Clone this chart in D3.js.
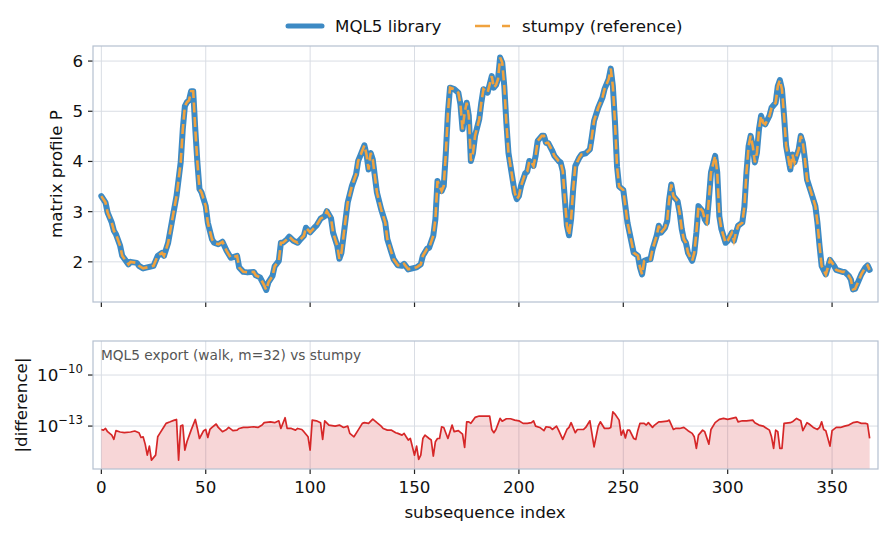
<!DOCTYPE html>
<html>
<head>
<meta charset="utf-8">
<script src="https://cdn.jsdelivr.net/npm/d3@7"></script>
<style>
  body { margin: 0; background: #fff; }
  text { font-family: "DejaVu Sans", sans-serif; }
</style>
</head>
<body>
<svg id="chart" width="888" height="533"></svg>
<script>
// matrix profile: [subsequence index, P]
const profilePoints = [
  [0,3.31],[2,3.18],[3,2.98],[5,2.78],[6,2.62],[7,2.55],[9,2.32],[10,2.12],[13,1.95],[14,2.0],
  [17,1.98],[18,1.92],[20,1.87],[22,1.89],[25,1.92],[27,2.12],[29,2.18],[30,2.12],[32,2.38],[34,2.85],
  [36,3.31],[38,3.98],[39,4.64],[40,5.1],[41,5.18],[42,5.22],[43,5.4],[44,5.4],[45,4.64],[46,3.98],
  [47,3.45],[48,3.38],[50,3.11],[51,2.78],[53,2.45],[54,2.38],[56,2.35],[58,2.4],[60,2.22],[61,2.15],
  [62,2.08],[65,2.12],[66,1.89],[68,1.8],[70,1.79],[73,1.8],[74,1.73],[76,1.69],[78,1.53],[79,1.44],
  [80,1.59],[82,1.72],[83,1.91],[85,2.02],[86,2.38],[87,2.38],[89,2.45],[90,2.5],[92,2.42],[94,2.38],
  [95,2.43],[97,2.52],[98,2.68],[100,2.59],[102,2.68],[103,2.72],[105,2.86],[107,2.91],[108,3.01],[110,2.87],
  [111,2.58],[113,2.32],[114,2.06],[115,2.18],[117,2.85],[118,3.18],[120,3.51],[122,3.74],[123,4.01],[124,4.11],
  [126,4.32],[127,4.14],[128,3.84],[129,4.17],[130,4.04],[131,3.71],[132,3.38],[134,3.05],[136,2.78],[137,2.45],
  [139,2.18],[140,2.05],[142,1.93],[144,1.92],[145,1.96],[147,1.85],[149,1.87],[151,1.89],[153,1.95],[154,2.12],
  [156,2.26],[157,2.28],[159,2.52],[160,2.85],[161,3.61],[163,3.41],[164,3.51],[165,4.17],[166,4.97],[167,5.47],
  [169,5.44],[171,5.37],[172,5.14],[173,4.64],[174,4.97],[175,5.17],[176,4.91],[177,4.01],[178,4.17],[179,4.51],
  [181,4.84],[182,5.17],[183,5.44],[185,5.37],[187,5.7],[188,5.47],[189,5.52],[190,5.64],[191,6.07],[192,5.97],
  [193,5.5],[194,4.77],[195,4.17],[197,3.64],[198,3.38],[199,3.25],[200,3.31],[201,3.51],[203,3.76],[204,3.8],
  [205,4.01],[206,3.98],[207,3.91],[208,4.11],[209,4.41],[211,4.51],[212,4.51],[213,4.37],[214,4.37],[216,4.21],
  [217,4.11],[219,4.01],[220,3.98],[221,3.81],[222,3.25],[223,2.72],[224,2.53],[225,2.85],[226,3.45],[227,3.91],
  [229,4.08],[230,4.14],[232,4.16],[234,4.24],[235,4.51],[236,4.81],[238,5.07],[240,5.27],[241,5.44],[243,5.64],
  [244,5.85],[245,5.5],[246,4.8],[247,3.9],[248,3.5],[250,3.43],[251,3.11],[252,2.78],[254,2.38],[255,2.18],
  [257,2.12],[258,1.89],[259,1.75],[260,2.02],[262,2.05],[263,2.05],[264,2.25],[266,2.52],[267,2.72],[268,2.58],
  [270,2.68],[271,2.81],[272,3.25],[273,3.54],[274,3.31],[276,3.21],[277,2.98],[278,2.65],[279,2.45],[280,2.38],
  [281,2.18],[283,2.02],[284,2.18],[285,2.58],[286,3.11],[288,3.01],[289,2.85],[290,2.78],[291,3.25],[292,3.78],
  [294,4.11],[295,3.78],[296,2.91],[297,2.65],[299,2.38],[300,2.42],[302,2.58],[303,2.42],[304,2.58],[305,2.72],
  [307,2.78],[308,3.1],[309,3.78],[310,4.3],[311,4.51],[312,4.31],[313,3.98],[314,4.17],[315,4.64],[316,4.91],
  [317,4.77],[318,4.74],[320,4.91],[321,5.07],[323,5.17],[324,5.5],[325,5.62],[326,5.44],[327,4.91],[328,4.31],
  [330,3.84],[331,4.14],[332,3.98],[334,4.24],[335,4.51],[336,4.37],[337,4.04],[338,3.64],[340,3.38],[342,3.11],
  [343,2.78],[344,2.32],[345,1.92],[347,1.75],[348,1.89],[349,2.04],[351,1.92],[352,1.84],[355,1.8],[356,1.8],
  [358,1.72],[359,1.65],[360,1.45],[361,1.46],[363,1.65],[364,1.75],[366,1.89],[367,1.93],[368,1.84]
];

// |difference| as [subsequence index, log10 of the value]
const diffPoints = [
  [0,-13.2],[1,-13.24],[2,-13.14],[3,-13.33],[5,-13.53],[6,-13.78],[7,-13.27],[9,-13.35],[11,-13.39],[14,-13.35],
  [16,-13.29],[18,-13.39],[19,-13.67],[20,-13.63],[21,-14.06],[22,-14.71],[23,-14.18],[24,-15.0],[26,-14.71],[27,-13.63],
  [28,-13.43],[30,-13.04],[31,-12.84],[33,-12.75],[35,-12.65],[36,-12.61],[37,-15.0],[38,-13.0],[39,-12.94],[40,-14.41],
  [41,-13.92],[43,-13.24],[45,-12.61],[46,-13.14],[47,-13.73],[49,-13.27],[50,-13.2],[51,-13.67],[52,-13.2],[53,-13.08],
  [55,-12.88],[56,-13.08],[58,-13.33],[60,-13.2],[61,-13.08],[63,-13.27],[65,-13.24],[66,-13.14],[68,-13.08],[70,-13.08],
  [73,-13.04],[75,-13.08],[77,-12.94],[78,-12.8],[81,-12.75],[83,-12.8],[85,-12.69],[86,-13.14],[88,-12.51],[89,-13.14],
  [91,-13.14],[93,-13.24],[94,-13.14],[96,-13.2],[97,-13.33],[99,-13.63],[100,-14.41],[101,-12.65],[103,-12.69],[105,-12.8],
  [106,-13.78],[107,-12.69],[109,-12.94],[112,-13.0],[114,-12.94],[116,-13.08],[118,-13.0],[119,-13.43],[121,-13.63],[123,-13.24],
  [125,-12.84],[126,-12.8],[128,-12.84],[130,-12.59],[132,-12.8],[134,-13.0],[135,-13.14],[137,-13.24],[139,-13.24],[141,-13.39],
  [142,-13.43],[144,-13.53],[145,-13.43],[146,-13.63],[147,-13.82],[148,-13.73],[150,-14.71],[151,-14.18],[152,-14.96],[153,-14.71],
  [154,-13.73],[155,-13.53],[157,-13.73],[158,-13.82],[159,-14.76],[160,-13.92],[161,-13.73],[162,-13.73],[163,-13.04],[164,-13.08],
  [166,-13.73],[168,-12.94],[169,-13.33],[171,-13.27],[173,-13.47],[174,-14.25],[175,-12.75],[176,-12.75],[177,-12.84],[179,-12.49],
  [181,-12.41],[184,-12.41],[186,-12.41],[187,-13.2],[188,-13.39],[189,-13.2],[191,-12.55],[192,-12.71],[194,-12.57],[196,-12.57],
  [198,-12.65],[200,-12.69],[202,-12.84],[204,-12.84],[206,-12.8],[207,-12.69],[208,-13.0],[210,-13.08],[212,-13.27],[213,-13.04],
  [215,-13.08],[216,-13.2],[218,-13.0],[219,-13.24],[221,-13.78],[223,-13.2],[224,-13.08],[225,-12.8],[227,-13.39],[228,-13.2],
  [231,-13.2],[232,-13.08],[234,-12.69],[236,-14.22],[238,-13.0],[239,-12.75],[241,-13.14],[243,-13.14],[244,-13.08],[245,-12.16],
  [246,-12.29],[248,-12.65],[249,-13.53],[250,-13.24],[251,-13.7],[252,-13.24],[253,-13.24],[255,-13.73],[256,-13.78],[257,-13.24],
  [258,-12.84],[260,-12.84],[261,-12.94],[262,-12.8],[264,-13.08],[265,-12.94],[267,-12.75],[268,-12.75],[271,-12.71],[272,-12.65],
  [274,-13.2],[275,-13.14],[277,-13.14],[279,-13.08],[281,-13.27],[283,-13.43],[284,-13.63],[285,-14.31],[286,-13.53],[288,-13.24],
  [289,-13.33],[291,-14.06],[292,-13.2],[294,-12.8],[296,-12.61],[298,-12.55],[300,-12.61],[302,-12.55],[304,-12.49],[305,-12.75],
  [307,-12.69],[309,-12.69],[312,-12.65],[313,-12.8],[315,-12.94],[317,-13.0],[318,-13.08],[320,-13.24],[321,-13.63],[322,-14.31],
  [323,-13.24],[324,-13.33],[325,-14.31],[326,-14.31],[327,-12.84],[330,-12.8],[331,-12.75],[333,-12.55],[335,-12.69],[336,-13.27],
  [338,-12.8],[339,-12.88],[341,-13.08],[343,-13.2],[344,-13.08],[345,-12.75],[346,-13.2],[347,-13.27],[349,-14.18],[350,-13.27],
  [352,-13.08],[354,-13.08],[356,-13.0],[358,-12.94],[360,-12.8],[362,-12.75],[364,-12.84],[366,-12.84],[367,-12.88],[368,-13.73]
];

const xTicks = [0, 50, 100, 150, 200, 250, 300, 350];
const topYTicks = [2, 3, 4, 5, 6];
const botYTicks = [-13, -10];   // powers of ten
const seriesNames = ["MQL5 library", "stumpy (reference)"];
const noteText = "MQL5 export (walk, m=32) vs stumpy";

const blue = "#3d8ac4", orange = "#f0a23e", red = "#d62728";
const gridCol = "#d9dde4", spineCol = "#b5c0d0";
const fs = "16.7px";

const svg = d3.select("#chart");

const x = d3.scaleLinear().domain([-4, 372]).range([93, 878]);
const yTop = d3.scaleLinear().domain([1.2, 6.3]).range([302, 46]);
const yBot = d3.scaleLog().domain([3e-16, 1e-8]).range([469, 341]);

const diffData = diffPoints.map(d => [d[0], Math.pow(10, d[1])]);

function panel(yScale, top, bottom, yGrid) {
    let g = svg.append("g");
    // grid
    g.selectAll(".vg").data(xTicks).enter().append("line")
        .attr("x1", d => x(d)).attr("x2", d => x(d))
        .attr("y1", top).attr("y2", bottom)
        .attr("stroke", gridCol).attr("stroke-width", 1);
    g.selectAll(".hg").data(yGrid).enter().append("line")
        .attr("x1", 93).attr("x2", 878)
        .attr("y1", d => yScale(d)).attr("y2", d => yScale(d))
        .attr("stroke", gridCol).attr("stroke-width", 1);
    // x tick marks
    g.selectAll(".xt").data(xTicks).enter().append("line")
        .attr("x1", d => x(d)).attr("x2", d => x(d))
        .attr("y1", bottom).attr("y2", bottom + 5)
        .attr("stroke", "#222").attr("stroke-width", 1.2);
    // y tick marks
    g.selectAll(".yt").data(yGrid).enter().append("line")
        .attr("x1", 88).attr("x2", 93)
        .attr("y1", d => yScale(d)).attr("y2", d => yScale(d))
        .attr("stroke", "#222").attr("stroke-width", 1.2);
    return g;
}

function frame(top, bottom) {
    svg.append("rect")
        .attr("x", 93).attr("y", top)
        .attr("width", 785).attr("height", bottom - top)
        .attr("fill", "none").attr("stroke", spineCol).attr("stroke-width", 1.2);
}

// ---- top panel
panel(yTop, 46, 302, topYTicks);

let profLine = d3.line().x(d => x(d[0])).y(d => yTop(d[1]));

svg.append("path").datum(profilePoints)
    .attr("d", profLine)
    .attr("fill", "none").attr("stroke", blue).attr("stroke-width", 6)
    .attr("stroke-linejoin", "round").attr("stroke-linecap", "round");
svg.append("path").datum(profilePoints)
    .attr("d", profLine)
    .attr("fill", "none").attr("stroke", orange).attr("stroke-width", 2.6)
    .attr("stroke-dasharray", "10,4.5");

frame(46, 302);

svg.selectAll(".tyl").data(topYTicks).enter().append("text")
    .attr("x", 83).attr("y", d => yTop(d))
    .attr("text-anchor", "end").attr("dominant-baseline", "central")
    .attr("font-size", fs).attr("fill", "#111")
    .text(d => d);

svg.append("text")
    .attr("transform", "translate(62,174) rotate(-90)")
    .attr("text-anchor", "middle").attr("font-size", fs).attr("fill", "#111")
    .text("matrix profile P");

// legend
let lg = svg.append("g");
lg.append("line").attr("x1", 288).attr("x2", 322).attr("y1", 26).attr("y2", 26)
    .attr("stroke", blue).attr("stroke-width", 5).attr("stroke-linecap", "round");
lg.append("text").attr("x", 335).attr("y", 26).attr("dominant-baseline", "central")
    .attr("font-size", fs).attr("fill", "#111").text(seriesNames[0]);
lg.append("line").attr("x1", 475).attr("x2", 510).attr("y1", 26).attr("y2", 26)
    .attr("stroke", orange).attr("stroke-width", 2.6).attr("stroke-dasharray", "15,12");
lg.append("text").attr("x", 522).attr("y", 26).attr("dominant-baseline", "central")
    .attr("font-size", fs).attr("fill", "#111").text(seriesNames[1]);

// ---- bottom panel
panel(yBot, 341, 469, botYTicks.map(p => Math.pow(10, p)));

svg.append("path").datum(diffData)
    .attr("d", d3.area().x(d => x(d[0])).y0(469).y1(d => yBot(d[1])))
    .attr("fill", red).attr("fill-opacity", 0.19);
svg.append("path").datum(diffData)
    .attr("d", d3.line().x(d => x(d[0])).y(d => yBot(d[1])))
    .attr("fill", "none").attr("stroke", red).attr("stroke-width", 1.7)
    .attr("stroke-linejoin", "round");

frame(341, 469);

svg.append("text")
    .attr("x", 101).attr("y", 360)
    .attr("font-size", "13.7px").attr("fill", "#555")
    .text(noteText);

let byl = svg.selectAll(".byl").data(botYTicks).enter().append("text")
    .attr("x", 83).attr("y", d => yBot(Math.pow(10, d)) + 6)
    .attr("text-anchor", "end").attr("font-size", fs).attr("fill", "#111");
byl.append("tspan").text("10");
byl.append("tspan").attr("font-size", "11.7px").attr("dy", -8).text(d => "\u2212" + Math.abs(d));

svg.append("text")
    .attr("transform", "translate(27,405) rotate(-90)")
    .attr("text-anchor", "middle").attr("font-size", fs).attr("fill", "#111")
    .text("|difference|");

// x tick labels (shared axis)
svg.selectAll(".xtl").data(xTicks).enter().append("text")
    .attr("x", d => x(d)).attr("y", 493)
    .attr("text-anchor", "middle").attr("font-size", fs).attr("fill", "#111")
    .text(d => d);

svg.append("text")
    .attr("x", 485).attr("y", 518)
    .attr("text-anchor", "middle").attr("font-size", fs).attr("fill", "#111")
    .text("subsequence index");
</script>
</body>
</html>
